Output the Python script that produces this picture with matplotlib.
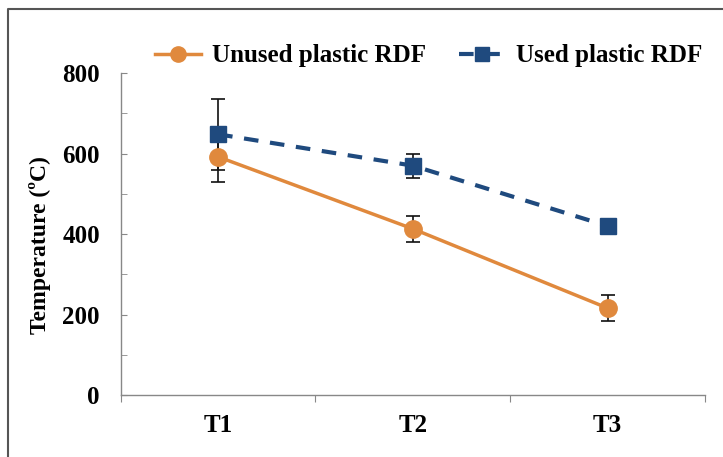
import numpy as np
import matplotlib.pyplot as plt
from matplotlib.lines import Line2D

categorias = ["T1", "T2", "T3"]
unused = [592, 413, 216]
unused_err = [63, 33, 33]
used = [648, 570, 420]
used_err = [88, 30, 8]

plt.rcParams['font.family'] = ['Liberation Serif', 'DejaVu Serif']
plt.rcParams['font.weight'] = 'bold'
plt.rcParams['axes.labelweight'] = 'bold'

cor_laranja = '#E0893D'
cor_azul = '#1F4A7E'

fig = plt.figure(figsize=(7.23, 4.57), dpi=100)
ax = fig.add_axes([0.167, 0.1357, 0.808, 0.7043])

x = np.arange(1, len(categorias) + 1)

ax.errorbar(x, unused, yerr=unused_err, color=cor_laranja, ecolor='#111111', elinewidth=1.2,
            capsize=5, capthick=1.2, lw=2.5, marker='o', ms=12.5, zorder=3,
            label='Unused plastic RDF')
ax.errorbar(x, used, yerr=used_err, color=cor_azul, ecolor='#111111', elinewidth=1.2,
            capsize=5, capthick=1.2, lw=3, ls=(0, (3.5, 2.8)), marker='s', ms=12, zorder=3,
            label='Used plastic RDF')

ax.set_xlim(0.5, 3.5)
ax.set_ylim(0, 800)
ax.set_yticks(np.arange(0, 801, 200))
ax.set_yticks(np.arange(0, 801, 100), minor=True)
ax.tick_params(axis='y', which='both', direction='in', length=4, color='#888888',
               labelsize=18, pad=15)

ax.set_xticks([0.5, 1.5, 2.5, 3.5])
ax.set_xticklabels([])
ax.set_xticks(x, minor=True)
ax.set_xticklabels(categorias, minor=True)
ax.tick_params(axis='x', which='major', direction='out', length=5, color='#888888')
ax.tick_params(axis='x', which='minor', length=0, labelsize=18, pad=14)

for lado in ['top', 'right']:
    ax.spines[lado].set_visible(False)
for lado in ['left', 'bottom']:
    ax.spines[lado].set_color('#888888')
    ax.spines[lado].set_linewidth(1)

ax.set_ylabel('Temperature (ºC)', fontsize=17, fontweight='bold')
ax.yaxis.set_label_coords(-0.12, 0.466)

handles = [
    Line2D([], [], color=cor_laranja, lw=2.5, marker='o', ms=11),
    Line2D([], [], color=cor_azul, lw=3, ls=(0, (3.5, 2.8)), marker='s', ms=10),
]
fig.legend(handles, ['Unused plastic RDF', 'Used plastic RDF'], loc='center',
           bbox_to_anchor=(0.593, 0.878), ncol=2, frameon=False, fontsize=18,
           handlelength=1.85, columnspacing=1.3, handletextpad=0.45)

# moldura cortada da figura original
fig.add_artist(Line2D([8 / 723, 8 / 723, 1.0], [0.0, 1 - 9 / 457, 1 - 9 / 457],
                      transform=fig.transFigure, color='#555555', lw=1.5))

fig.savefig('out.png', dpi=100)
